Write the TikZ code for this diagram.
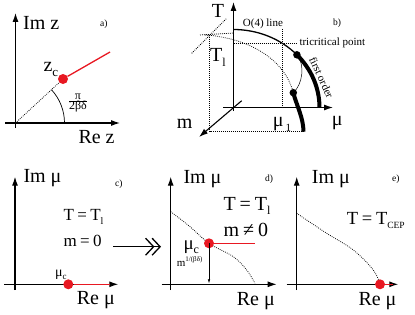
\documentclass[tikz,border=0pt]{standalone}
\usepackage{fontspec}
\setmainfont{Liberation Serif}
\usetikzlibrary{arrows.meta}
\definecolor{myred}{RGB}{232,24,34}
\newcommand\sbs[2][11]{\raisebox{-0.22em}{\fontsize{#1}{#1}\selectfont #2}}
\newcommand\eqsp{\hspace{0.2em}}
\begin{document}
\begin{tikzpicture}[x=1pt,y=1pt,
  ax/.style={line width=1.1pt,-{Latex[length=9pt,width=6pt]}},
  lab/.style={inner sep=0pt,anchor=base west,font=\fontsize{20}{22}\selectfont},
  mid/.style={inner sep=0pt,anchor=base west,font=\fontsize{17}{19}\selectfont},
  sml/.style={inner sep=0pt,anchor=base west,font=\fontsize{11}{13}\selectfont},
  tag/.style={inner sep=0pt,anchor=base west,font=\fontsize{9.5}{11}\selectfont},
  dotl/.style={line width=0.75pt,dash pattern=on 0.8pt off 1.2pt},
  rdot/.style={circle,fill=myred,inner sep=0pt,minimum size=10pt},
  bdot/.style={circle,fill=black,inner sep=0pt,minimum size=7.5pt},
  redl/.style={myred,line width=1.3pt}]
\useasboundingbox (0,0) rectangle (415,314);

% ---------- panel a ----------
\coordinate (aO) at (15.5,191);
\coordinate (aV0) at (15.5,186);
\coordinate (aV1) at (15.5,301);
\coordinate (aH0) at (5,191);
\coordinate (aH1) at (120,191);
\coordinate (aR) at (110,262);
\draw[ax] (aV0) -- (aV1);
\draw[ax] (aH0) -- (aH1);
\node[rdot] (za) at (63,235) {};
\draw[dotl] (aO) -- (za);
\draw[redl] (za) -- (aR);
\draw[line width=0.7pt] (64.5,191) arc[start angle=0,end angle=42.8,radius=49];
\node[lab] (aIm) at (23,284) {Im z};
\node[tag] (atag) at (100,287) {a)};
\node[lab] (azc) at (43.3,242.3) {z\sbs[13]{c}};
\node[inner sep=0pt,font=\fontsize{12}{13}\selectfont] (afr) at (78,211) {$\frac{\mbox{π}}{\mbox{2βδ}}$};
\node[lab] (aRe) at (78.3,170.7) {Re z};

% ---------- panel b ----------
\coordinate (bO) at (233.5,206.5);
\coordinate (bT0) at (233.5,203);
\coordinate (bT1) at (233.5,312);
\coordinate (bM0) at (223,206.5);
\coordinate (bM1) at (333,206.5);
\coordinate (bm0) at (241.7,213.3);
\coordinate (bm1) at (199,177);
\draw[ax] (bT0) -- (bT1);
\draw[ax] (bM0) -- (bM1);
\draw[ax] (bm0) -- (bm1);
% dotted construction lines
\coordinate (bq0) at (200,279);
\coordinate (bq1) at (233.5,281);
\coordinate (bd0) at (191.7,260.7);
\coordinate (bd1) at (227,296);
\coordinate (bv0) at (209.5,279);
\coordinate (bv1) at (209.5,182.3);
\coordinate (bh1) at (303.5,182.3);
\coordinate (bu0) at (282.7,285);
\coordinate (bu1) at (282.7,206.5);
\coordinate (bt0) at (233.5,270.7);
\coordinate (bt1) at (296.5,270.7);
\draw[dotl] (bq0) -- (bq1);
\draw[dotl] (bd0) -- (bd1);
\draw[dotl] (bv0) -- (bv1) -- (bh1);
\draw[dotl] (bu0) -- (bu1);
\draw[dotl] (bt0) -- (bt1);
% O(4) line and first order line
\draw[line width=1.3pt] (233.5,284.5) arc[start angle=90,end angle=42.5,x radius=86,y radius=78] coordinate (bc1);
\draw[line width=4pt] (bc1) arc[start angle=42.5,end angle=0,x radius=86,y radius=78];
\node[bdot] (tcp) at (bc1) {};
% m>0 curve
\node[bdot] (lowdot) at (293.3,221.3) {};
\draw[dotl] (205,279) .. controls (250,276) and (285,254) .. (lowdot.center);
\draw[line width=4pt] (lowdot.center) .. controls (296.3,209.3) and (303.5,196) .. (bh1);
\draw[line width=0.5pt] (tcp.center) .. controls (305,250) and (303,230) .. (lowdot.center);
% labels
\node[lab] (bT) at (211.7,296) {T};
\node[lab] (bm) at (176.7,186) {m};
\node[lab] (bmu) at (331.7,189) {μ};
\node[lab] (bmu1) at (272.7,187.3) {μ\hspace{0.1em}\sbs[11]{1}};
\node[lab] (bTl) at (210,252) {T\sbs[12]{l}};
\node[sml] (bO4) at (242.7,287) {O(4) line};
\node[tag] (btag) at (333,288) {b)};
\node[sml] (btri) at (299.3,268) {tricritical point};
\node[inner sep=0pt,font=\fontsize{11}{12}\selectfont,rotate=-65.5] (bfo) at (321.5,236.5) {first order};

% ---------- panel c ----------
\coordinate (cV0) at (15,24);
\coordinate (cV1) at (15,137.3);
\coordinate (cH0) at (4,29.7);
\coordinate (cH1) at (118.3,29.7);
\coordinate (cR) at (110,29.7);
\draw[ax] (cV0) -- (cV1);
\draw[ax] (cH0) -- (cH1);
\node[rdot] (cdot) at (68.3,29.7) {};
\draw[redl] (cdot) -- (cR);
\node[lab] (cIm) at (23.3,132) {Im μ};
\node[tag] (ctag) at (115,128) {c)};
\node[mid] (cT) at (63.3,93.3) {T\eqsp=\eqsp T\sbs[10]{l}};
\node[mid] (cm) at (63.3,67.3) {m\eqsp=\eqsp0};
\node[inner sep=0pt,anchor=base west,font=\fontsize{14}{15}\selectfont] (cmuc) at (55,37.3) {μ\sbs[9]{c}};
\node[lab] (cRe) at (76.7,10) {Re μ};
% big arrow
\coordinate (ar0) at (113.3,67.3);
\coordinate (ar1) at (161,67.3);
\draw[line width=1.3pt,-{Straight Barb[length=8pt,width=17pt,line width=1.3pt,sep=-3pt]Straight Barb[length=8pt,width=17pt,line width=1.3pt]}] (ar0) -- (ar1);

% ---------- panel d ----------
\coordinate (dV0) at (170.7,24);
\coordinate (dV1) at (170.7,137.3);
\coordinate (dH0) at (161.7,29.7);
\coordinate (dH1) at (276.7,29.7);
\coordinate (dR) at (255,70.7);
\coordinate (dF) at (209,30.7);
\draw[ax] (dV0) -- (dV1);
\draw[ax] (dH0) -- (dH1);
\draw[dotl] plot[smooth,tension=0.6] coordinates {(170.7,102.3) (190,87.3) (209,70.7) (233.3,57.3) (246.7,44) (255,30.7)};
\node[rdot] (ddot) at (209,70.7) {};
\draw[redl] (ddot) -- (dR);
\draw[line width=0.5pt,-{Latex[length=4pt,width=2.5pt]}] (ddot.center) -- (dF);
\node[lab] (dIm) at (183.3,130.7) {Im μ};
\node[tag] (dtag) at (265,133) {d)};
\node[lab] (dT) at (223.3,104) {T\eqsp=\eqsp T\sbs[12]{l}};
\node[lab] (dm) at (223.3,78) {m\eqsp≠\eqsp0};
\node[inner sep=0pt,anchor=base west,font=\fontsize{19}{20}\selectfont] (dmuc) at (183.3,65) {μ\sbs[12]{c}};
\node[inner sep=0pt,anchor=base west,font=\fontsize{11}{12}\selectfont] (dexp) at (176.7,47.3) {m\raisebox{0.45em}{\fontsize{7}{7}\selectfont 1/(βδ)}};
\node[lab] (dRe) at (236.7,9) {Re μ};

% ---------- panel e ----------
\coordinate (eV0) at (296.7,24);
\coordinate (eV1) at (296.7,137.3);
\coordinate (eH0) at (286.7,29.7);
\coordinate (eH1) at (398.3,29.7);
\coordinate (eR) at (393,29.7);
\draw[ax] (eV0) -- (eV1);
\draw[ax] (eH0) -- (eH1);
\draw[dotl] plot[smooth,tension=0.6] coordinates {(296.7,100.7) (326.7,80.7) (353.3,64) (373.3,44) (380,29.7)};
\node[rdot] (edot) at (380,29.7) {};
\draw[redl] (edot) -- (eR);
\node[lab] (eIm) at (311.7,130.7) {Im μ};
\node[tag] (etag) at (392,133) {e)};
\node[inner sep=0pt,anchor=base west,font=\fontsize{18.5}{20}\selectfont] (eT) at (346.7,90) {T\eqsp=\eqsp T\sbs[9.5]{CEP}};
\node[lab] (eRe) at (358.3,9) {Re μ};
\end{tikzpicture}
\end{document}
